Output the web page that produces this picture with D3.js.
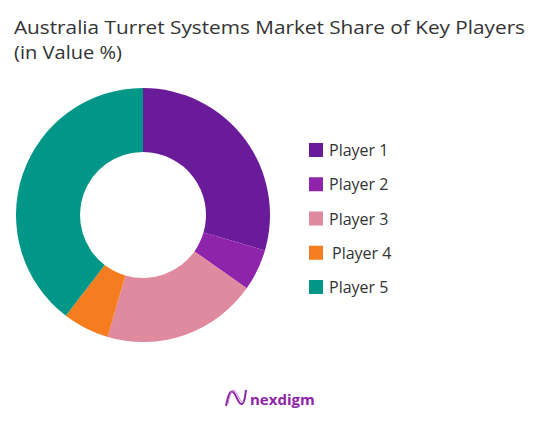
<!DOCTYPE html>
<html><head><meta charset="utf-8">
<script src="https://cdn.jsdelivr.net/npm/d3@7"></script>
<style>body{margin:0;background:#fff}svg{font-family:"Open Sans",sans-serif}</style>
</head><body><svg id="c" width="548" height="421"></svg>
<script>
const categories=["Player 1","Player 2","Player 3","Player 4","Player 5"];
const shares=[29.5,5.3,19.7,5.9,39.6];
const colors=["#6a1b9a","#8e24aa","#e08aa0","#f57c1f","#009688"];
const svg=d3.select("#c");
svg.append("text").attr("x",14).attr("y",34).attr("font-size",18).attr("fill","#333").attr("textLength",511).attr("lengthAdjust","spacingAndGlyphs").text("Australia Turret Systems Market Share of Key Players");
svg.append("text").attr("x",14).attr("y",59).attr("font-size",18).attr("fill","#333").attr("textLength",108).attr("lengthAdjust","spacingAndGlyphs").text("(in Value %)");
const pie=d3.pie().sort(null).value(d=>d);
const arc=d3.arc().innerRadius(63).outerRadius(127);
const g=svg.append("g").attr("transform","translate(143,215)");
g.selectAll("path").data(pie(shares)).join("path").attr("d",arc).attr("fill",(d,i)=>colors[i]);
const y=d3.scalePoint().domain(categories).range([150,287]);
const lg=svg.append("g");
categories.forEach((c,i)=>{
  lg.append("rect").attr("x",309).attr("y",y(c)-7).attr("width",14).attr("height",14).attr("fill",colors[i]);
  lg.append("text").attr("x",i==3?332:329).attr("y",y(c)+6).attr("font-size",16).attr("fill","#333").text(c);
});
const lo=svg.append("g");
lo.append("path").attr("d","M226,406 C228,396 230,390 233,392 C237,395 238,405 242,404 C245,403 245,395 246,390").attr("fill","none").attr("stroke","#8e24aa").attr("stroke-width",2);
lo.append("path").attr("d","M228,404 C230,394 232,388 235,391 C239,396 240,403 244,402").attr("fill","none").attr("stroke","#c77dd8").attr("stroke-width",1);
lo.append("text").attr("x",250).attr("y",405).attr("font-size",15).attr("font-weight","bold").attr("fill","#8e24aa").text("nexdigm");
</script></body></html>
